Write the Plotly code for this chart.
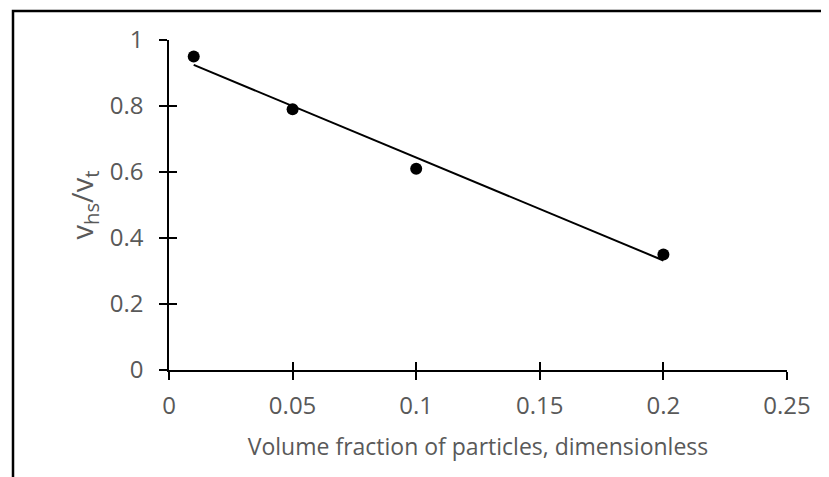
import numpy as np
import plotly.graph_objects as go

volume_fraction = [0.01, 0.05, 0.10, 0.20]
velocity_ratio = [0.95, 0.79, 0.61, 0.35]
x_ticks = [0, 0.05, 0.1, 0.15, 0.2, 0.25]
y_ticks = [0, 0.2, 0.4, 0.6, 0.8, 1]

slope, intercept = np.polyfit(volume_fraction, velocity_ratio, 1)
trend_x = [min(volume_fraction), max(volume_fraction)]
trend_y = [slope * v + intercept for v in trend_x]

FONT = "Open Sans"
GRAY = "#595959"
TICK_SIZE = 24

fig = go.Figure()
fig.add_trace(go.Scatter(x=trend_x, y=trend_y, mode="lines",
                         line=dict(color="black", width=2), showlegend=False,
                         hoverinfo="skip"))
fig.add_trace(go.Scatter(x=volume_fraction, y=velocity_ratio, mode="markers",
                         marker=dict(color="black", size=12), showlegend=False))

# page body has an 8px margin, so the figure sits at (8, 8) in the window
OFF = 8
W, H = 829 - OFF, 477 - OFF
L, R, T, B = 169 - OFF, 42, 40 - OFF, H - (370 - OFF)
pw, ph = W - L - R, H - T - B

axis_common = dict(showgrid=False, zeroline=False, showline=True, linecolor="black",
                   linewidth=1.5, ticks="outside", ticklen=8, tickwidth=1.5,
                   tickcolor="black", automargin=False,
                   tickfont=dict(family=FONT, size=TICK_SIZE, color=GRAY))

fig.update_layout(
    width=W, height=H,
    margin=dict(l=L, r=R, t=T, b=B),
    paper_bgcolor="white", plot_bgcolor="white",
    xaxis=dict(range=[0, 0.25], tickvals=x_ticks, ticktext=[f"{v:g}" for v in x_ticks],
               ticklabelstandoff=5,
               title=dict(text="Volume fraction of particles, dimensionless",
                          font=dict(family=FONT, size=23, color=GRAY), standoff=19),
               **axis_common),
    yaxis=dict(range=[0, 1], tickvals=y_ticks, ticktext=[f"{v:g}" for v in y_ticks],
               ticklabelstandoff=11,
               title=dict(text="v<sub>hs</sub>/v<sub>t</sub>",
                          font=dict(family=FONT, size=29, color=GRAY), standoff=8),
               **axis_common),
    xaxis2=dict(overlaying="x", anchor="y2", range=[0, 0.25], tickvals=x_ticks,
                showticklabels=False, showgrid=False, zeroline=False, showline=False,
                ticks="inside", ticklen=8, tickwidth=1.5, tickcolor="black", side="bottom",
                automargin=False),
    yaxis2=dict(overlaying="y", anchor="x2", range=[0, 1], tickvals=y_ticks,
                showticklabels=False, showgrid=False, zeroline=False, showline=False,
                ticks="inside", ticklen=8, tickwidth=1.5, tickcolor="black", side="left",
                automargin=False),
)
# invisible copy of the data on the secondary axes so their inner tick halves are drawn
fig.add_trace(go.Scatter(x=volume_fraction, y=velocity_ratio, xaxis="x2", yaxis="y2",
                         mode="markers", marker=dict(opacity=0), showlegend=False,
                         hoverinfo="skip"))

# outer chart border (continues past the right and bottom window edges)
fig.add_shape(type="rect", xref="paper", yref="paper",
              x0=(13 - OFF - L) / pw, x1=(W + 10 - L) / pw,
              y0=-(H + 20 - (H - B)) / ph, y1=(H - B - (11 - OFF)) / ph,
              line=dict(color="black", width=2.5), fillcolor="rgba(0,0,0,0)", layer="below")

fig.write_html("out.html")
